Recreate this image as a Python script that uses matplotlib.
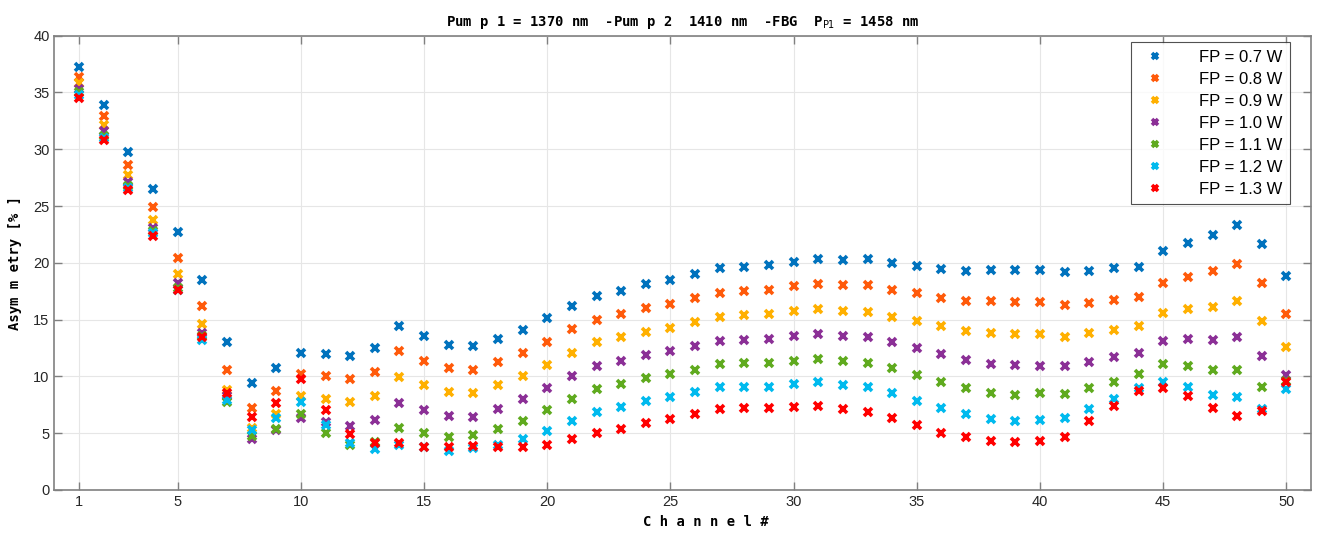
import matplotlib
matplotlib.use('Agg')
import matplotlib.pyplot as plt

plt.rcParams['font.family'] = ['Liberation Sans', 'DejaVu Sans']

channels = list(range(1, 51))

fp_labels = ['FP = 0.7 W', 'FP = 0.8 W', 'FP = 0.9 W', 'FP = 1.0 W',
             'FP = 1.1 W', 'FP = 1.2 W', 'FP = 1.3 W']
colors = ['#0072BD', '#FF5A0A', '#FFB000', '#8B2F96', '#5FAA1E', '#00BAEE', '#FF0000']

fp07 = [37.2, 33.9, 29.8, 26.5, 22.7, 18.5, 13.0, 9.45, 10.7, 12.1,
        12.0, 11.8, 12.5, 14.45, 13.6, 12.8, 12.65, 13.3, 14.1, 15.1,
        16.2, 17.1, 17.55, 18.1, 18.5, 19.0, 19.5, 19.6, 19.8, 20.1,
        20.3, 20.25, 20.3, 20.0, 19.75, 19.45, 19.3, 19.35, 19.35, 19.35,
        19.15, 19.3, 19.5, 19.6, 21.05, 21.75, 22.45, 23.35, 21.7, 18.8]
fp08 = [36.4, 32.9, 28.6, 24.9, 20.4, 16.2, 10.6, 7.25, 8.7, 10.2,
        10.0, 9.8, 10.4, 12.2, 11.4, 10.7, 10.6, 11.25, 12.1, 13.05,
        14.2, 15.0, 15.5, 16.05, 16.4, 16.9, 17.35, 17.5, 17.65, 17.95,
        18.15, 18.05, 18.05, 17.6, 17.3, 16.9, 16.65, 16.65, 16.55, 16.55,
        16.3, 16.5, 16.7, 16.95, 18.25, 18.75, 19.25, 19.9, 18.2, 15.5]
fp09 = [35.8, 32.1, 27.7, 23.8, 19.05, 14.6, 8.8, 5.5, 6.7, 8.25,
        8.0, 7.75, 8.3, 9.95, 9.2, 8.6, 8.5, 9.2, 10.05, 11.0,
        12.1, 13.0, 13.45, 13.95, 14.3, 14.75, 15.25, 15.4, 15.5, 15.75,
        15.9, 15.8, 15.7, 15.25, 14.9, 14.4, 14.0, 13.85, 13.75, 13.75,
        13.5, 13.8, 14.1, 14.4, 15.6, 15.9, 16.1, 16.6, 14.85, 12.55]
fp10 = [35.3, 31.6, 27.1, 23.1, 18.2, 13.8, 8.3, 4.45, 5.3, 6.35,
        6.0, 5.65, 6.15, 7.7, 7.05, 6.5, 6.45, 7.1, 8.0, 8.95,
        10.05, 10.9, 11.35, 11.9, 12.25, 12.7, 13.1, 13.2, 13.3, 13.55,
        13.7, 13.55, 13.45, 13.0, 12.5, 11.95, 11.45, 11.1, 11.0, 10.95,
        10.9, 11.3, 11.7, 12.1, 13.15, 13.25, 13.2, 13.5, 11.8, 10.1]
fp11 = [35.0, 31.2, 26.8, 22.8, 17.8, 13.6, 7.75, 4.75, 5.4, 6.65,
        5.0, 4.0, 4.2, 5.5, 5.0, 4.7, 4.8, 5.35, 6.05, 7.0,
        8.05, 8.9, 9.3, 9.85, 10.2, 10.6, 11.1, 11.15, 11.2, 11.4,
        11.55, 11.4, 11.2, 10.7, 10.1, 9.55, 9.0, 8.5, 8.35, 8.5,
        8.45, 9.0, 9.55, 10.2, 11.05, 10.9, 10.6, 10.6, 9.1, 9.6]
fp12 = [34.8, 31.0, 26.6, 22.6, 17.6, 13.2, 7.95, 5.3, 6.3, 7.75,
        5.7, 4.1, 3.6, 4.0, 3.75, 3.45, 3.7, 4.0, 4.5, 5.15,
        6.1, 6.9, 7.3, 7.85, 8.2, 8.6, 9.05, 9.1, 9.1, 9.35,
        9.5, 9.25, 9.05, 8.5, 7.85, 7.2, 6.7, 6.25, 6.1, 6.2,
        6.35, 7.15, 8.0, 8.95, 9.55, 9.05, 8.35, 8.15, 7.15, 8.9]
fp13 = [34.5, 30.8, 26.4, 22.4, 17.65, 13.5, 8.5, 6.4, 7.7, 9.8,
        7.0, 4.95, 4.1, 4.1, 3.8, 3.8, 3.9, 3.75, 3.8, 3.95,
        4.5, 5.0, 5.4, 5.9, 6.25, 6.65, 7.1, 7.2, 7.2, 7.3,
        7.4, 7.15, 6.9, 6.35, 5.7, 5.05, 4.7, 4.35, 4.2, 4.3,
        4.65, 6.05, 7.4, 8.75, 9.0, 8.3, 7.2, 6.5, 6.95, 9.5]

series = [fp07, fp08, fp09, fp10, fp11, fp12, fp13]

fig = plt.figure(figsize=(13.19, 5.4), dpi=100)
ax = fig.add_axes([0.0413, 0.0926, 0.9527, 0.8414])

for vals, c, lab in zip(series, colors, fp_labels):
    ax.plot(channels, vals, linestyle='none', marker='x', color=c,
            markersize=6, markeredgewidth=2.6, label=lab)

ax.set_xlim(0, 51)
ax.set_ylim(0, 40)
ax.set_xticks([1, 5, 10, 15, 20, 25, 30, 35, 40, 45, 50])
ax.set_yticks(range(0, 41, 5))
ax.grid(True, color='#e6e6e6', linewidth=0.8)
ax.set_axisbelow(True)
for s in ax.spines.values():
    s.set_color('#808080')
    s.set_linewidth(1.2)
ax.tick_params(direction='in', length=6, width=1, labelcolor='#262626',
               color='#808080', top=True, right=True, labelsize=10.5)

mono = {'family': 'DejaVu Sans Mono', 'weight': 'bold', 'size': 10}
ax.set_title('Pum p 1 = 1370 nm  -Pum p 2  1410 nm  -FBG  P$_{\\mathrm{P1}}$ = 1458 nm',
             fontdict=mono, pad=7)
ax.set_xlabel('C h a n n e l #', fontdict=mono, labelpad=2)
ax.xaxis.set_label_coords(0.518, -0.055)
ax.set_ylabel('Asym m etry [% ]', fontdict=mono, labelpad=8)

leg = ax.legend(loc='upper right', bbox_to_anchor=(0.983, 0.986), borderaxespad=0,
                fontsize=12, frameon=True, fancybox=False,
                edgecolor='#262626', borderpad=0.45, labelspacing=0.42,
                handletextpad=1.6, markerscale=0.75)
leg.get_frame().set_linewidth(0.8)

fig.savefig('out.png', dpi=100)
